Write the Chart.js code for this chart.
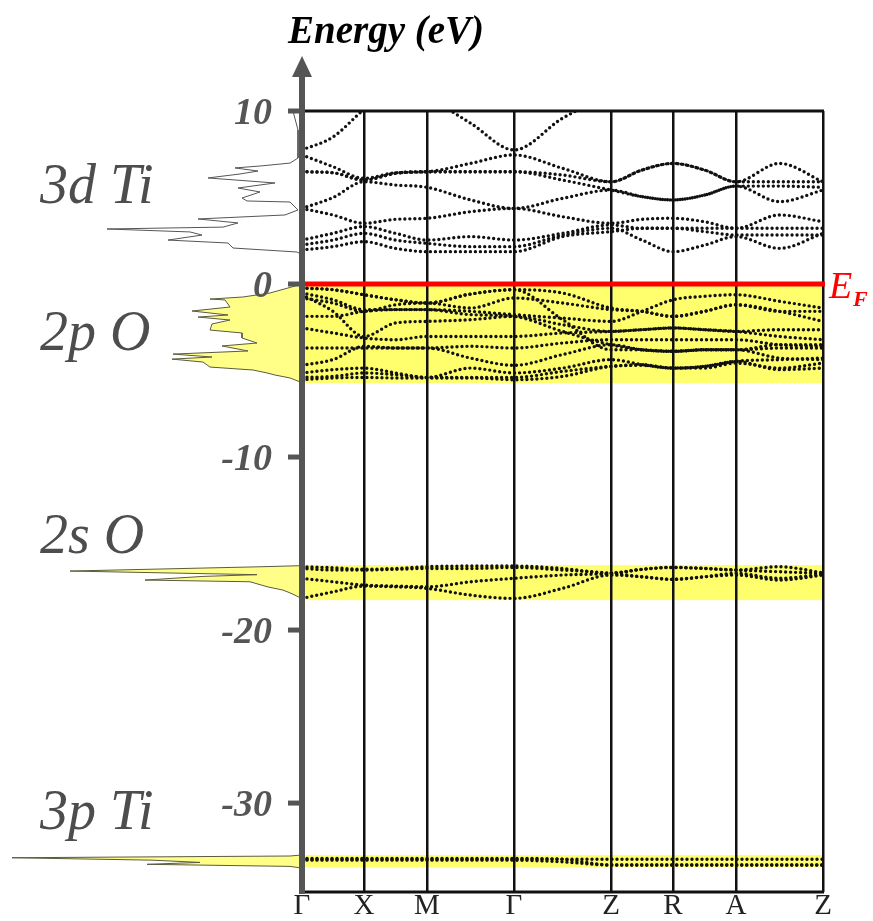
<!DOCTYPE html>
<html>
<head>
<meta charset="utf-8">
<script src="https://cdn.jsdelivr.net/npm/chart.js@4.4.1/dist/chart.umd.min.js"></script>
<style>
  html, body { margin: 0; padding: 0; background: #fff; }
  canvas { display: block; }
</style>
</head>
<body>
<canvas id="bandChart" width="873" height="921"></canvas>
<script>
// ***** k-path ***** //
const kLabels = ['Γ', 'X', 'M', 'Γ', 'Z', 'R', 'A', 'Z'];
const kTicks = [0, 62, 125, 212, 309, 371, 434, 521];
// bands are read at every high-symmetry point and at the middle of each segment
const kSamples = [0, 31, 62, 93.5, 125, 168.5, 212, 260.5, 309, 340, 371, 402.5, 434, 477.5, 521];

const energyTicks = [10, 0, -10, -20, -30];

// ***** conduction bands (3d Ti), eV ***** //
const condBands = [
  [7.75, 8.5, 10.1, 11.5, 10.8, 9.3, 7.75, 9.58, 11, 12, 12, 12, 12, 12, 12],
  [7.46, 6.78, 6.11, 6.43, 6.49, 6.97, 7.46, 6.69, 5.91, 6.59, 6.97, 6.59, 5.91, 6.97, 5.91],
  [6.49, 6.43, 6.01, 6.40, 6.49, 6.49, 6.49, 6.30, 5.91, 6.59, 6.97, 6.59, 5.91, 5.91, 5.91],
  [6.49, 6.43, 6.01, 6.40, 6.49, 6.49, 6.49, 6.01, 5.43, 5.05, 4.86, 5.14, 5.66, 4.76, 5.43],
  [4.37, 5.0, 5.91, 5.72, 5.59, 4.86, 4.37, 4.95, 5.43, 5.05, 4.86, 5.14, 5.66, 5.66, 5.59],
  [4.37, 3.99, 3.51, 3.74, 3.80, 4.18, 4.37, 3.89, 3.51, 3.74, 3.80, 3.60, 3.22, 3.99, 3.60],
  [2.54, 2.93, 3.32, 2.93, 2.54, 2.74, 2.54, 2.93, 3.41, 3.22, 3.22, 3.22, 3.22, 3.22, 3.22],
  [2.25, 2.54, 2.93, 2.54, 2.35, 2.16, 2.16, 2.83, 3.22, 2.54, 1.87, 2.25, 2.74, 2.06, 2.93],
  [1.97, 2.16, 2.45, 2.06, 1.87, 1.87, 1.87, 2.74, 3.03, 3.22, 3.22, 3.03, 2.83, 2.83, 2.83]
];

// ***** valence bands (2p O), eV ***** //
const valBands = [
  [-0.23, -0.33, -0.62, -0.91, -1.10, -0.58, -0.33, -0.52, -1.39, -1.58, -1.87, -1.58, -1.20, -1.58, -1.58],
  [-0.52, -0.91, -1.48, -1.48, -1.48, -1.58, -1.77, -1.97, -2.16, -1.58, -0.91, -0.71, -0.62, -1.00, -1.39],
  [-0.62, -1.58, -3.03, -2.25, -2.16, -2.06, -1.87, -2.35, -2.74, -2.64, -2.54, -2.64, -2.74, -2.64, -2.64],
  [-0.81, -1.10, -1.58, -1.20, -1.10, -1.39, -0.81, -1.10, -1.48, -1.58, -1.87, -1.58, -1.20, -1.58, -2.16],
  [-1.87, -1.87, -1.58, -1.48, -1.48, -1.77, -1.87, -2.74, -3.51, -3.80, -3.89, -3.80, -3.80, -3.70, -3.70],
  [-2.54, -2.83, -3.12, -3.22, -3.03, -3.03, -3.03, -2.83, -2.74, -2.64, -2.54, -2.64, -2.74, -3.03, -3.22],
  [-3.70, -3.70, -3.70, -3.70, -3.70, -3.60, -3.70, -3.41, -3.22, -3.22, -3.22, -3.22, -3.22, -3.51, -3.60],
  [-4.70, -4.37, -3.60, -3.70, -3.70, -4.28, -4.70, -4.08, -3.51, -3.80, -3.89, -3.80, -3.80, -4.28, -4.37],
  [-5.14, -4.95, -4.86, -5.14, -5.40, -4.86, -5.14, -4.86, -4.37, -4.66, -4.86, -4.76, -4.47, -4.37, -4.28],
  [-5.40, -5.34, -5.14, -5.24, -5.40, -5.40, -5.40, -5.05, -4.76, -4.66, -4.86, -4.76, -4.47, -4.95, -4.86],
  [-5.53, -5.43, -5.40, -5.43, -5.43, -5.43, -5.53, -5.34, -4.76, -4.70, -4.86, -4.86, -4.57, -4.86, -4.57],
  [-0.23, -0.33, -0.62, -0.91, -1.10, -0.58, -0.33, -2.06, -3.80, -3.80, -3.89, -3.80, -3.80, -3.51, -3.51]
];

// ***** 2s O bands, eV ***** //
const o2sBands = [
  [-16.34, -16.40, -16.49, -16.44, -16.34, -16.30, -16.30, -16.44, -16.72, -16.49, -16.38, -16.44, -16.53, -16.34, -16.69],
  [-16.44, -16.53, -16.53, -16.49, -16.44, -16.44, -16.38, -16.53, -16.72, -16.92, -17.07, -16.92, -16.72, -17.01, -16.76],
  [-17.01, -17.21, -17.40, -17.46, -17.50, -17.21, -17.01, -16.82, -16.72, -16.49, -16.38, -16.44, -16.53, -16.63, -16.72],
  [-18.17, -17.79, -17.46, -17.50, -17.59, -17.98, -18.17, -17.59, -16.82, -16.92, -17.07, -16.92, -16.82, -17.11, -16.82]
];

// ***** 3p Ti bands, eV ***** //
const ti3pBands = [
  [-33.25, -33.25, -33.25, -33.25, -33.25, -33.25, -33.25, -33.25, -33.25, -33.25, -33.25, -33.25, -33.25, -33.25, -33.25],
  [-33.30, -33.30, -33.30, -33.30, -33.30, -33.30, -33.30, -33.40, -33.58, -33.58, -33.58, -33.58, -33.58, -33.58, -33.58],
  [-33.20, -33.20, -33.20, -33.20, -33.20, -33.20, -33.20, -33.25, -33.58, -33.58, -33.58, -33.58, -33.58, -33.58, -33.58]
];

// ***** partial DOS (energy / intensity) ***** //
const dos3dTiE = [10.0, 8.9, 7.28, 6.99, 6.82, 6.71, 6.53, 6.36, 6.13, 5.84, 5.55, 5.32, 4.97, 4.80, 4.74, 4.45, 4.28, 3.99, 3.76, 3.53, 3.29, 3.18, 3.01, 2.83, 2.54, 2.37, 2.08, 1.85, 1.73];
const dos3dTiV = [9, 4, 4, 12, 42, 67, 44, 62, 94, 27, 64, 42, 60, 55, 12, 7, 4, 17, 104, 64, 79, 195, 112, 100, 134, 74, 69, 5, 1];
const dos2pOE = [0, -0.23, -0.52, -0.75, -0.87, -0.92, -1.33, -1.56, -1.79, -1.91, -2.08, -2.31, -2.66, -2.83, -3.12, -3.41, -3.58, -3.87, -4.05, -4.22, -4.34, -4.51, -4.80, -4.97, -5.14, -5.26, -5.43, -5.61, -5.72];
const dos2pOV = [0, 14, 32, 59, 92, 77, 72, 110, 74, 104, 72, 90, 92, 60, 60, 45, 80, 54, 129, 90, 130, 99, 92, 49, 35, 27, 12, 4, 0];
const dos2sOE = [-16.24, -16.28, -16.34, -16.59, -16.80, -16.90, -17.11, -17.21, -17.51, -17.69, -17.90, -18.13, -18.24];
const dos2sOV = [0, 2, 40, 232, 45, 99, 157, 52, 34, 19, 10, 2, 0];
const dos3pTiE = [-33.0, -33.06, -33.16, -33.30, -33.43, -33.54, -33.66, -33.76];
const dos3pTiV = [0, 12, 290, 150, 102, 155, 12, 0];

// shaded energy windows behind the bands
const windowTop = [0, -16.24, -33.0];
const windowBottom = [-5.72, -18.27, -33.7];

const serif = '"Liberation Serif", "Times New Roman", serif';

function bandSet(values) {
  return {
    data: values.map((e, i) => ({x: kSamples[i], y: e})),
    showLine: true,
    pointRadius: 0,
    borderColor: '#111',
    borderWidth: 3.4,
    borderDash: [0, 5],
    borderCapStyle: 'round',
    cubicInterpolationMode: 'monotone',
    fill: false
  };
}

function dosSet(E, V, filled) {
  return {
    data: E.map((e, i) => ({x: -V[i], y: e})),
    showLine: true,
    pointRadius: 0,
    borderColor: filled ? '#5a5a40' : '#555',
    borderWidth: 1,
    tension: 0,
    fill: filled ? 'shape' : false,
    backgroundColor: '#ffff88'
  };
}

const datasets = [
  ...condBands.map(bandSet),
  ...valBands.map(bandSet),
  ...o2sBands.map(bandSet),
  ...ti3pBands.map(bandSet),
  dosSet(dos3dTiE, dos3dTiV, false),
  dosSet(dos2pOE, dos2pOV, true),
  dosSet(dos2sOE, dos2sOV, true),
  dosSet(dos3pTiE, dos3pTiV, true)
];

const decor = {
  id: 'decor',
  beforeDraw(chart) {
    const {ctx, scales: {x, y}} = chart;
    const left = x.getPixelForValue(kTicks[0]);
    const right = x.getPixelForValue(kTicks[kTicks.length - 1]);
    ctx.save();
    ctx.fillStyle = '#ffff6e';
    for (let i = 0; i < windowTop.length; i++) {
      const y1 = y.getPixelForValue(windowTop[i]);
      const y2 = y.getPixelForValue(windowBottom[i]);
      ctx.fillRect(left, y1, right - left, y2 - y1);
    }
    ctx.restore();
  },
  afterDatasetsDraw(chart) {
    const {ctx, chartArea, scales: {x, y}} = chart;
    const left = x.getPixelForValue(kTicks[0]);
    const right = x.getPixelForValue(kTicks[kTicks.length - 1]);
    ctx.save();

    // frame top / bottom
    ctx.strokeStyle = '#111';
    ctx.lineWidth = 3;
    ctx.beginPath();
    ctx.moveTo(left, chartArea.top);
    ctx.lineTo(right + 1, chartArea.top);
    ctx.moveTo(left, chartArea.bottom);
    ctx.lineTo(right + 1, chartArea.bottom);
    ctx.stroke();

    // Fermi level
    const y0 = y.getPixelForValue(0);
    ctx.strokeStyle = '#ff0000';
    ctx.lineWidth = 5;
    ctx.beginPath();
    ctx.moveTo(left, y0);
    ctx.lineTo(right + 2, y0);
    ctx.stroke();
    ctx.fillStyle = '#ff0000';
    ctx.textAlign = 'left';
    ctx.textBaseline = 'alphabetic';
    ctx.font = 'italic 38px ' + serif;
    ctx.fillText('E', 829, y0 + 14);
    ctx.font = 'italic bold 22px ' + serif;
    ctx.fillText('F', 853, y0 + 22);

    // energy axis with arrow
    ctx.strokeStyle = '#555';
    ctx.fillStyle = '#555';
    ctx.lineWidth = 6;
    ctx.beginPath();
    ctx.moveTo(left, 70);
    ctx.lineTo(left, chartArea.bottom + 2);
    ctx.stroke();
    ctx.beginPath();
    ctx.moveTo(left, 56);
    ctx.lineTo(left - 10, 77);
    ctx.lineTo(left + 10, 77);
    ctx.closePath();
    ctx.fill();

    ctx.lineWidth = 5;
    ctx.font = 'italic bold 38px ' + serif;
    ctx.textAlign = 'right';
    energyTicks.forEach(t => {
      const py = y.getPixelForValue(t);
      ctx.beginPath();
      ctx.moveTo(left - 14, py);
      ctx.lineTo(left, py);
      ctx.stroke();
      ctx.fillText(String(t), left - 30, py + 13);
    });

    // axis title
    ctx.fillStyle = '#000';
    ctx.textAlign = 'center';
    ctx.font = 'italic bold 39px ' + serif;
    ctx.fillText('Energy (eV)', 386, 43);

    // orbital labels
    ctx.fillStyle = '#4d4d4d';
    ctx.textAlign = 'left';
    ctx.font = 'italic 56px ' + serif;
    ctx.fillText('3d Ti', 40, y.getPixelForValue(4.68));
    ctx.fillText('2p O', 40, y.getPixelForValue(-3.82));
    ctx.fillText('2s O', 40, y.getPixelForValue(-15.55));
    ctx.fillText('3p Ti', 40, y.getPixelForValue(-31.5));
    ctx.restore();
  }
};

new Chart(document.getElementById('bandChart'), {
  type: 'scatter',
  data: { datasets },
  options: {
    responsive: false,
    animation: false,
    devicePixelRatio: 1,
    layout: { padding: { top: 111, right: 50, left: 0, bottom: 0 } },
    plugins: {
      legend: { display: false },
      tooltip: { enabled: false }
    },
    scales: {
      x: {
        type: 'linear',
        min: -302,
        max: 521,
        afterBuildTicks: scale => { scale.ticks = kTicks.map(v => ({value: v})); },
        ticks: {
          autoSkip: false,
          maxRotation: 0,
          padding: 0,
          color: '#222',
          font: { family: serif, size: 29, lineHeight: 1 },
          callback: (value, index) => kLabels[index]
        },
        grid: { color: '#111', lineWidth: 2.5, drawTicks: false },
        border: { display: false }
      },
      y: {
        display: false,
        min: -35.14,
        max: 10
      }
    }
  },
  plugins: [decor]
});
</script>
</body>
</html>
